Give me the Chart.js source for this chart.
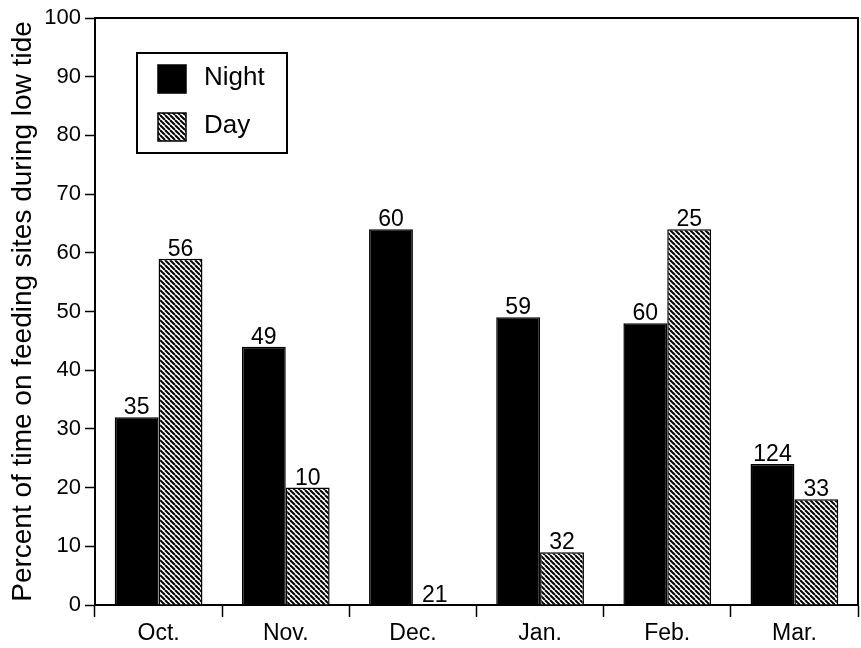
<!DOCTYPE html>
<html>
<head>
<meta charset="utf-8">
<script src="https://cdn.jsdelivr.net/npm/chart.js@4.4.1/dist/chart.umd.min.js"></script>
<style>
  body { margin: 0; background: #fff; }
  #wrap { width: 861px; height: 648px; }
</style>
</head>
<body>
<div id="wrap"><canvas id="feedingChart" width="861" height="648"></canvas></div>
<script>
// ---------- data ----------
const months = ["Oct.", "Nov.", "Dec.", "Jan.", "Feb.", "Mar."];
const nightValues = [32, 44, 64, 49, 48, 24];
const dayValues = [59, 20, 0, 9, 64, 18];
// sample sizes printed above the bars
const nightCounts = [35, 49, 60, 59, 60, 124];
const dayCounts = [56, 10, 21, 32, 25, 33];
const yTicks = [0, 10, 20, 30, 40, 50, 60, 70, 80, 90, 100];

Chart.defaults.font.family = "'Liberation Sans', Arial, Helvetica, sans-serif";
Chart.defaults.color = "#000";

// diagonal hatch for the Day bars
function makeHatch() {
    const s = 5;
    const c = document.createElement("canvas");
    c.width = s;
    c.height = s;
    const g = c.getContext("2d");
    g.fillStyle = "#fff";
    g.fillRect(0, 0, s, s);
    g.strokeStyle = "#000";
    g.lineWidth = 2;
    for (let k = -1; k <= 1; k++) {
        g.beginPath();
        g.moveTo(k * s, 0);
        g.lineTo(k * s + s, s);
        g.stroke();
    }
    const ctx = document.createElement("canvas").getContext("2d");
    return ctx.createPattern(c, "repeat");
}
const hatch = makeHatch();

// ---------- n labels above bars + frame + legend ----------
const extrasPlugin = {
    id: "extras",
    afterDatasetsDraw(chart) {
        const ctx = chart.ctx;
        const counts = [nightCounts, dayCounts];
        ctx.save();
        ctx.font = "23px 'Liberation Sans', Arial, sans-serif";
        ctx.fillStyle = "#000";
        ctx.textAlign = "center";
        ctx.textBaseline = "alphabetic";
        chart.data.datasets.forEach((ds, i) => {
            chart.getDatasetMeta(i).data.forEach((bar, j) => {
                ctx.fillText(String(counts[i][j]), bar.x, bar.y - 3);
            });
        });
        ctx.restore();
    },
    afterDraw(chart) {
        const ctx = chart.ctx;
        const a = chart.chartArea;
        ctx.save();
        // top and right frame
        ctx.strokeStyle = "#000";
        ctx.lineWidth = 2;
        ctx.beginPath();
        ctx.moveTo(a.left, a.top);
        ctx.lineTo(a.right, a.top);
        ctx.lineTo(a.right, a.bottom);
        ctx.stroke();

        // legend box
        const lx = a.left + 42, ly = a.top + 35;
        ctx.lineWidth = 2;
        ctx.strokeRect(lx, ly, 150, 100);
        ctx.font = "26px 'Liberation Sans', Arial, sans-serif";
        ctx.textBaseline = "middle";
        ctx.textAlign = "left";
        chart.data.datasets.forEach((ds, i) => {
            const y = ly + 12 + i * 48;
            ctx.fillStyle = ds.backgroundColor;
            ctx.fillRect(lx + 21, y, 28, 28);
            ctx.lineWidth = 1.5;
            ctx.strokeRect(lx + 21, y, 28, 28);
            ctx.fillStyle = "#000";
            ctx.fillText(ds.label, lx + 67, y + 13);
        });
        ctx.restore();
    }
};

const ctx1 = document.getElementById("feedingChart").getContext("2d");

new Chart(ctx1, {
    type: "bar",
    data: {
        labels: months,
        datasets: [
            {
                label: "Night",
                data: nightValues,
                backgroundColor: "#000",
                borderColor: "#000",
                borderWidth: 1.5,
                categoryPercentage: 0.69,
                barPercentage: 1.0
            },
            {
                label: "Day",
                data: dayValues,
                backgroundColor: hatch,
                borderColor: "#000",
                borderWidth: 1.5,
                categoryPercentage: 0.69,
                barPercentage: 1.0
            }
        ]
    },
    options: {
        responsive: false,
        animation: false,
        layout: { padding: { top: 18, right: 3, left: 0, bottom: 0 } },
        plugins: {
            legend: { display: false },
            tooltip: { enabled: false }
        },
        scales: {
            y: {
                min: 0,
                max: 100,
                afterFit: (scale) => { scale.width = 95; },
                afterBuildTicks: (scale) => {
                    scale.ticks = yTicks.map(v => ({ value: v }));
                },
                ticks: {
                    font: { size: 22 },
                    padding: 4,
                    color: "#000"
                },
                grid: {
                    drawOnChartArea: false,
                    drawTicks: true,
                    tickLength: 10,
                    tickWidth: 1.5,
                    tickColor: "#000"
                },
                border: { color: "#000", width: 2 },
                title: {
                    display: true,
                    text: "Percent of time on feeding sites during low tide",
                    font: { size: 28 },
                    color: "#000",
                    padding: { top: 6, bottom: 0 }
                }
            },
            x: {
                afterFit: (scale) => { scale.height = 43; },
                ticks: {
                    font: { size: 23 },
                    padding: 3,
                    color: "#000"
                },
                grid: {
                    offset: true,
                    drawOnChartArea: false,
                    drawTicks: true,
                    tickLength: 12,
                    tickWidth: 1.5,
                    tickColor: "#000"
                },
                border: { color: "#000", width: 2 }
            }
        }
    },
    plugins: [extrasPlugin]
});
</script>
</body>
</html>
